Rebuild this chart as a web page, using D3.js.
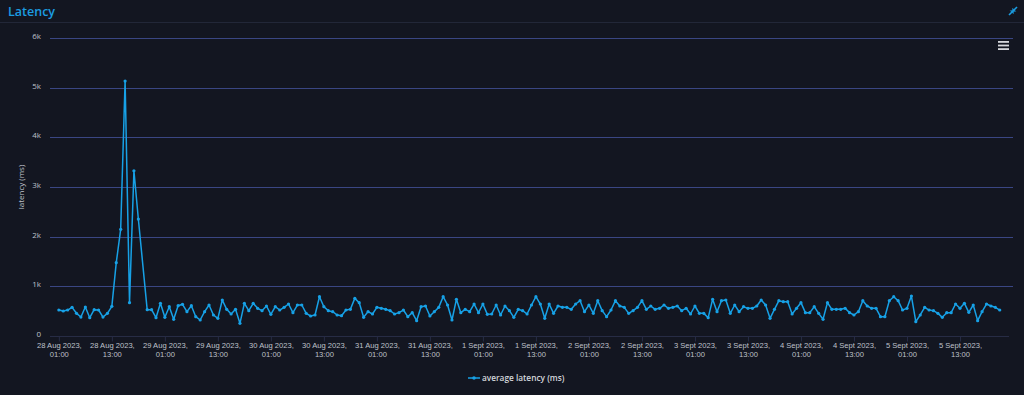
<!DOCTYPE html>
<html>
<head>
<meta charset="utf-8">
<script src="https://cdn.jsdelivr.net/npm/d3@7"></script>
<style>
  html, body { margin: 0; padding: 0; background: #131621; }
  svg { display: block; font-family: "Open Sans", "Noto Sans", sans-serif; }
</style>
</head>
<body>
<script>
var w = 1024;
var h = 395;
var margin = { top: 38, right: 11, bottom: 59, left: 50 };

// hourly average latency (ms), first sample 28 Aug 2023 01:00 (null = no sample)
var startTime = Date.UTC(2023, 7, 28, 1, 0);
var latency = [
  523, 503, 523, 577, 457, 382, 584, 369, 530, 523,
  382, 457, 597, 1476, 2148, 5133, 670, 3327, 2355, null,
  530, 530, 369, 658, 376, 590, 336, 610, 638, 490,
  610, 389, 322, 490, 624, 423, 356, 725, 537, 443,
  537, 255, 658, 510, 658, 557, 510, 604, 436, 590,
  523, 577, 644, 470, 624, 624, 456, 403, 423, 791,
  590, 510, 490, 423, 409, 523, 537, 758, 671, 376,
  490, 443, 577, 557, 537, 510, 443, 470, 523, 389,
  470, 309, 590, 604, 403, 490, 577, 791, 624, 322,
  738, 470, 537, 490, 644, 470, 644, 436, 443, 624,
  423, 604, 510, 376, 537, 510, 443, 624, 791, 644,
  356, 644, 456, 604, 577, 577, 537, 644, 711, 490,
  624, 456, 711, 510, 389, 523, 711, 604, 577, 456,
  510, 577, 711, 537, 604, 537, 557, 624, 557, 577,
  604, 510, 557, 443, 604, 456, 456, 369, 738, 490,
  711, 725, 456, 624, 490, 590, 557, 557, 604, 725,
  624, 356, 537, 711, 691, 691, 443, 557, 671, 470,
  470, 590, 456, 336, 671, 537, 537, 537, 557, 470,
  423, 490, 711, 604, 557, 557, 389, 389, 711, 791,
  711, 523, 557, 805, 289, 423, 577, 523, 510, 456,
  376, 470, 470, 644, 557, 658, 477, 624, 309, 490,
  644, 604, 577, 523
];
var yTicks = [0, 1000, 2000, 3000, 4000, 5000, 6000];
var yTickLabels = ["0", "1k", "2k", "3k", "4k", "5k", "6k"];
var monthNames = ["Jan", "Feb", "Mar", "Apr", "May", "June", "July", "Aug", "Sept", "Oct", "Nov", "Dec"];

var HOUR = 3600 * 1000;
var data = latency.map(function (v, i) {
  return { t: new Date(startTime + i * HOUR), v: v };
}).filter(function (d) { return d.v !== null; });
// ticks every 12h starting from the first sample
var xTicks = d3.range(0, 18).map(function (k) { return new Date(startTime + k * 12 * HOUR); });

var svg = d3.select("body")
  .append("svg")
  .attr("width", w)
  .attr("height", h);

svg.append("rect").attr("width", w).attr("height", h).attr("fill", "#131621");

// header
svg.append("text")
  .attr("x", 8).attr("y", 16)
  .attr("fill", "#1b9de2")
  .attr("font-size", 12.5)
  .attr("font-weight", 600)
  .text("Latency");

svg.append("line")
  .attr("x1", 0).attr("x2", w)
  .attr("y1", 22.5).attr("y2", 22.5)
  .attr("stroke", "#222738");

// collapse icon top right
var icon = svg.append("g").attr("transform", "translate(1013,11)")
  .attr("stroke", "#1b9de2").attr("stroke-width", 1.6).attr("fill", "#1b9de2");
icon.append("line").attr("x1", -4).attr("y1", 4).attr("x2", -1).attr("y2", 1);
icon.append("line").attr("x1", 4).attr("y1", -4).attr("x2", 1).attr("y2", -1);
icon.append("path").attr("d", "M-0.3,-2.6 L-0.3,0.3 L2.6,0.3 Z").attr("stroke-width", 0.6);
icon.append("path").attr("d", "M0.3,2.6 L0.3,-0.3 L-2.6,-0.3 Z").attr("stroke-width", 0.6);

var plotW = w - margin.left - margin.right;
var plotH = h - margin.top - margin.bottom;

var g = svg.append("g")
  .attr("transform", "translate(" + margin.left + "," + margin.top + ")");

var xScale = d3.scaleTime()
  .domain([new Date(startTime - 2 * HOUR), new Date(startTime + 216 * HOUR)])
  .range([0, plotW]);

var yScale = d3.scaleLinear()
  .domain([0, 6000])
  .range([plotH, 0]);

// gridlines
g.selectAll(".grid")
  .data(yTicks.slice(1))
  .enter()
  .append("line")
  .attr("class", "grid")
  .attr("x1", 0).attr("x2", plotW)
  .attr("y1", function (d) { return Math.round(yScale(d)) + 0.5; })
  .attr("y2", function (d) { return Math.round(yScale(d)) + 0.5; })
  .attr("stroke", "#3a4683")
  .attr("stroke-width", 1);

// y axis labels
var yAxis = d3.axisLeft(yScale)
  .tickValues(yTicks)
  .tickSize(0)
  .tickPadding(9)
  .tickFormat(function (d, i) { return yTickLabels[i]; });

var yAxisGroup = g.append("g").call(yAxis);
yAxisGroup.select(".domain").remove();
yAxisGroup.selectAll("text")
  .attr("fill", "#bfc1ca")
  .attr("font-size", 8)
  .attr("font-family", "Open Sans, Noto Sans, sans-serif")
  .attr("dy", "0.05em");

// y title
svg.append("text")
  .attr("transform", "translate(24," + (margin.top + plotH / 2) + ") rotate(-90)")
  .attr("text-anchor", "middle")
  .attr("fill", "#bfc1ca")
  .attr("font-size", 8)
  .text("latency (ms)");

// x axis
function fmtDay(d) {
  return d.getUTCDate() + " " + monthNames[d.getUTCMonth()] + " " + d.getUTCFullYear() + ",";
}
var xAxis = d3.axisBottom(xScale)
  .tickValues(xTicks)
  .tickSize(5)
  .tickSizeOuter(0)
  .tickFormat("");

var xAxisGroup = g.append("g")
  .attr("transform", "translate(0," + (plotH + 0.5) + ")")
  .call(xAxis);
xAxisGroup.select(".domain").attr("stroke", "#272c45").attr("d", "M0,0H" + (plotW - 4));
xAxisGroup.selectAll(".tick line").attr("stroke", "#272c45");

var lbl = xAxisGroup.selectAll(".tick")
  .append("text")
  .attr("fill", "#bfc1ca")
  .attr("font-size", 7.6)
  .attr("text-anchor", "middle");
lbl.append("tspan").attr("x", 0).attr("y", 11).text(function (d) { return fmtDay(d); });
lbl.append("tspan").attr("x", 0).attr("y", 20.5).text(function (d) { return d3.utcFormat("%H:%M")(d); });

// series
var line = d3.line()
  .x(function (d) { return xScale(d.t); })
  .y(function (d) { return yScale(d.v); });

g.append("path")
  .datum(data)
  .attr("d", line)
  .attr("fill", "none")
  .attr("stroke", "#17a1e6")
  .attr("stroke-width", 1.5)
  .attr("stroke-linejoin", "round");

g.selectAll(".pt")
  .data(data)
  .enter()
  .append("circle")
  .attr("class", "pt")
  .attr("cx", function (d) { return xScale(d.t); })
  .attr("cy", function (d) { return yScale(d.v); })
  .attr("r", 1.6)
  .attr("fill", "#17a1e6");

// hamburger menu
var menu = svg.append("g").attr("transform", "translate(998,41)");
[0, 3.6, 7.2].forEach(function (dy) {
  menu.append("rect")
    .attr("x", 0).attr("y", dy)
    .attr("width", 11).attr("height", 1.8)
    .attr("fill", "#d6d7dc");
});

// legend
var legend = svg.append("g").attr("transform", "translate(468,378)");
legend.append("line")
  .attr("x1", 0).attr("x2", 12)
  .attr("stroke", "#17a1e6").attr("stroke-width", 1.5);
legend.append("circle").attr("cx", 6).attr("r", 1.8).attr("fill", "#17a1e6");
legend.append("text")
  .attr("x", 14).attr("y", 3)
  .attr("fill", "#d4d6dc")
  .attr("font-size", 8.3)
  .attr("font-weight", 600)
  .text("average latency (ms)");
</script>
</body>
</html>
